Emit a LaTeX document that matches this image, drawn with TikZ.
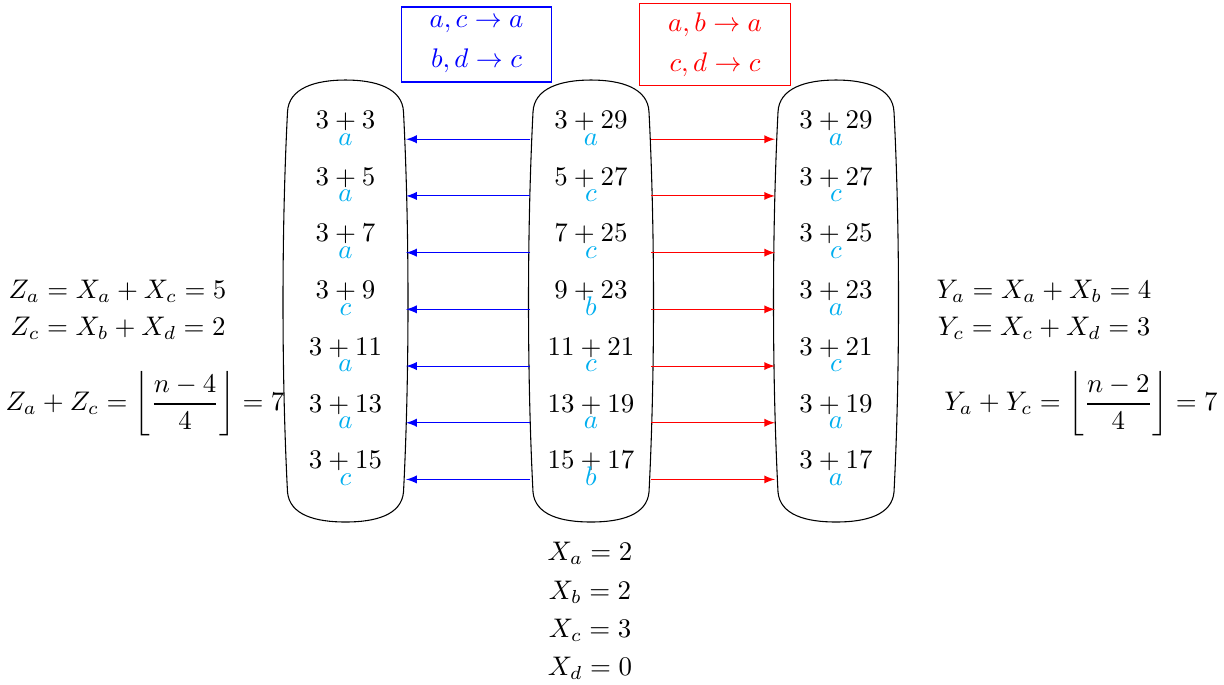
\documentclass[tikz,border=0pt]{standalone}
\usepackage{amsmath}
\usepackage{amssymb}
\usepackage{xcolor}
\usepackage{tikz}

\definecolor{tagcyan}{RGB}{0,174,239}

% rounded column outline around a list of sums, centred at x = #1
\newcommand{\drawcolumn}[1]{%
  \draw (#1-58,112) .. controls (#1-57,88) and (#1-30,80) .. (#1,80)
    .. controls (#1+30,80) and (#1+57,88) .. (#1+58,112)
    .. controls (#1+64,230) and (#1+64,375) .. (#1+58,492)
    .. controls (#1+56,515) and (#1+30,522) .. (#1,522)
    .. controls (#1-30,522) and (#1-56,515) .. (#1-58,492)
    .. controls (#1-64,375) and (#1-64,230) .. cycle;}

\begin{document}
\begin{tikzpicture}[x=0.013072cm, y=-0.013072cm,
  num/.style={anchor=base},
  tag/.style={text=tagcyan, inner sep=0pt, text height=4.3pt, text depth=0pt, anchor=base},
  toleft/.style={blue, -latex},
  toright/.style={red, -latex},
  rulebox/.style={draw, align=center, minimum width=1.97cm, minimum height=0.98cm}]
  \useasboundingbox (0,0) rectangle (1224,684);
  % columns
  \drawcolumn{345.5}
  \drawcolumn{591}
  \drawcolumn{836}
  % edges where the arrows start and stop
  \coordinate (Le) at (406,0);
  \coordinate (Mw) at (530,0);
  \coordinate (Me) at (651,0);
  \coordinate (Rw) at (775,0);
  % rules
  \node[rulebox, blue] (lrule) at (476.5,44.5) {$a,c\to a$\\[3pt]$b,d\to c$};
  \node[rulebox, red] (rrule) at (715,44.5) {$a,b\to a$\\[3pt]$c,d\to c$};
  % rows of sums with their letters
  \foreach \i/\l/\tl/\m/\tm/\r/\tr in {1/3+3/a/3+29/a/3+29/a, 2/3+5/a/5+27/c/3+27/c,
      3/3+7/a/7+25/c/3+25/c, 4/3+9/c/9+23/b/3+23/a, 5/3+11/a/11+21/c/3+21/c,
      6/3+13/a/13+19/a/3+19/a, 7/3+15/c/15+17/b/3+17/a} {
    \pgfmathsetmacro{\yb}{128.5+56.7*(\i-1)}
    \node[num] (L\i) at (345.5,\yb) {$\l$};
    \node[num] (M\i) at (591,\yb) {$\m$};
    \node[num] (R\i) at (836,\yb) {$\r$};
    \node[tag] (Lt\i) at (345.5,\yb+16.5) {$\tl$};
    \node[tag] (Mt\i) at (591,\yb+16.5) {$\tm$};
    \node[tag] (Rt\i) at (836,\yb+16.5) {$\tr$};
    \draw[toleft] (Mt\i -| Mw) -- (Mt\i -| Le);
    \draw[toright] (Mt\i -| Me) -- (Mt\i -| Rw);
  }
  % counts on the left
  \node (za) at (117.5,291) {$Z_a = X_a + X_c = 5$};
  \node (zc) at (118,328) {$Z_c = X_b + X_d = 2$};
  \node (zsum) at (145,404) {$\displaystyle Z_a + Z_c = \left\lfloor \frac{n-4}{4} \right\rfloor = 7$};
  % counts on the right
  \node (ya) at (1044,291) {$Y_a = X_a + X_b = 4$};
  \node (yc) at (1044,328) {$Y_c = X_c + X_d = 3$};
  \node (ysum) at (1081,404) {$\displaystyle Y_a + Y_c = \left\lfloor \frac{n-2}{4} \right\rfloor = 7$};
  % counts below
  \node (xa) at (590,553) {$X_a = 2$};
  \node (xb) at (590,592) {$X_b = 2$};
  \node (xc) at (590,630) {$X_c = 3$};
  \node (xd) at (590,668) {$X_d = 0$};
\end{tikzpicture}
\end{document}
